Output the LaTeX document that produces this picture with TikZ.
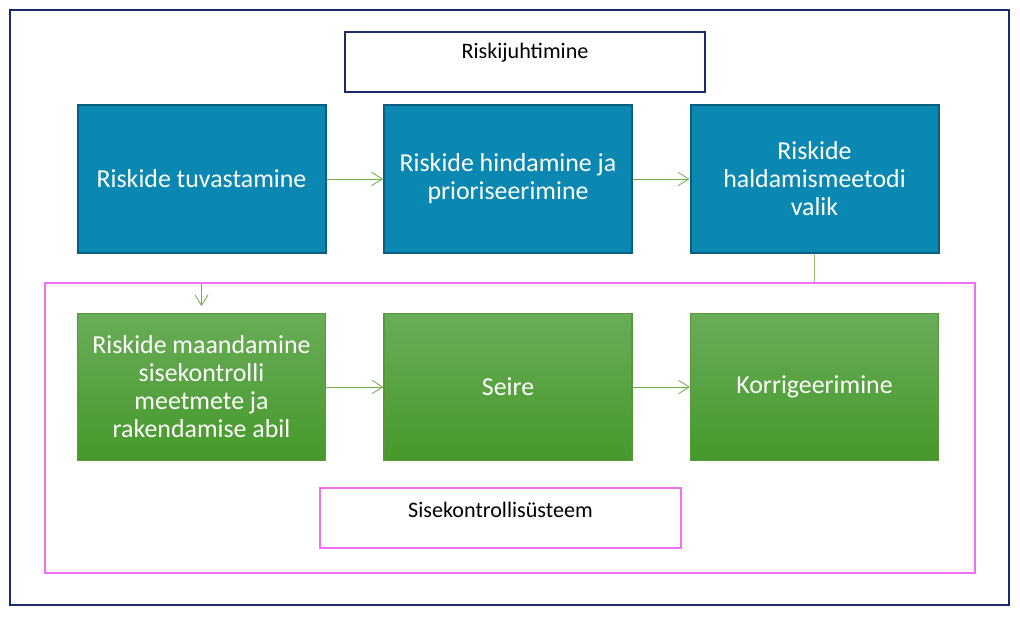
\documentclass[tikz,border=0pt]{standalone}
\usepackage{fontspec}
\setmainfont{Carlito}
\usetikzlibrary{arrows.meta}
\definecolor{navy}{HTML}{1A2A6C}
\definecolor{blueF}{HTML}{0B88B1}
\definecolor{blueD}{HTML}{0A5F80}
\definecolor{greenT}{HTML}{6AAC59}
\definecolor{greenB}{HTML}{46992A}
\definecolor{greenD}{HTML}{55993A}
\definecolor{arrowG}{HTML}{70AD47}
\definecolor{pinkF}{HTML}{F26EF2}
\tikzset{
  bluebox/.style={draw=blueD, line width=1.5pt, fill=blueF, text=white,
    minimum width=186pt, minimum height=110.5pt, inner sep=0pt, align=center,
    font=\fontsize{19.4}{21}\selectfont},
  greenbox/.style={draw=greenD, line width=0.8pt, top color=greenT, bottom color=greenB, text=white,
    minimum width=186pt, minimum height=110.5pt, inner sep=0pt, align=center,
    font=\fontsize{19.4}{21}\selectfont},
  titlebox/.style={draw=navy, line width=1.3pt, fill=white, minimum width=270pt, minimum height=45pt, inner sep=0pt},
  pinkbox/.style={draw=pinkF, line width=1.3pt, fill=white, minimum width=270.5pt, minimum height=45pt, inner sep=0pt},
  lbl/.style={font=\fontsize{16.6}{18}\selectfont, inner sep=0pt},
  conn/.style={draw=arrowG, line width=0.6pt, -{Straight Barb[length=8pt,width=10pt]}},
  plainconn/.style={draw=arrowG!75, line width=0.8pt},
}
\begin{document}
\begin{tikzpicture}[x=0.75pt,y=-0.75pt]
\path[fill=white] (0,0) rectangle (1020,620);
\useasboundingbox (0,0) rectangle (1020,620);
\node[draw=navy, line width=1.5pt, minimum width=749pt, minimum height=446.25pt, inner sep=0pt] (outer) at (509.5,307.5) {};
\node[titlebox] (tb) at (525,62) {};
\node[lbl] (tl) at (525,53) {Riskijuhtimine};
\node[bluebox] (b1) at (201.5,179) {Riskide tuvastamine};
\node[bluebox] (b2) at (508,179) {Riskide hindamine ja\\prioriseerimine};
\node[bluebox] (b3) at (814.5,179) {Riskide\\haldamismeetodi\\valik};
\draw[conn] (b1) -- (b2);
\draw[conn] (b2) -- (b3);
\coordinate (e1) at (814.5,283);
\coordinate (e2) at (201.5,283);
\node[greenbox] (g1) at (201.5,387) {Riskide maandamine\\sisekontrolli\\meetmete ja\\rakendamise abil};
\node[greenbox] (g2) at (508,387) {Seire};
\node[greenbox] (g3) at (814.5,387) {Korrigeerimine};
\draw[plainconn] (b3.south) -- (e1) -- (e2);
\draw[conn, shorten >=5pt] (e2) -- (g1.north);
\node[draw=pinkF, line width=1.5pt, minimum width=697.5pt, minimum height=217.5pt, inner sep=0pt] (frame) at (510,428) {};
\draw[conn] (g1) -- (g2);
\draw[conn] (g2) -- (g3);
\node[pinkbox] (sb) at (500.5,518) {};
\node[lbl] (sl) at (500.5,510) {Sisekontrollisüsteem};
\end{tikzpicture}
\end{document}
